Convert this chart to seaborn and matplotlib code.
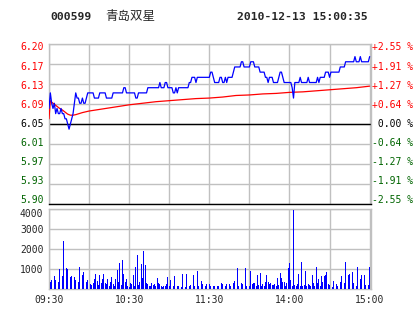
import numpy as np
import matplotlib
matplotlib.use("Agg")
import matplotlib.pyplot as plt
import seaborn as sns

# ---------------- data ----------------
code = "000599"
name = "青岛双星"
stamp = "2010-12-13 15:00:35"
prev_close = 6.05
pct_limit = 2.55

price_labels = ["6.20", "6.17", "6.13", "6.09", "6.05", "6.01", "5.97", "5.93", "5.90"]
pct_labels = ["+2.55 %", "+1.91 %", "+1.27 %", "+0.64 %", " 0.00 %",
              "-0.64 %", "-1.27 %", "-1.91 %", "-2.55 %"]
grid_minutes = [0, 30, 60, 90, 120, 150, 180, 210, 240]
time_labels = ["09:30", "", "10:30", "", "11:30", "", "14:00", "", "15:00"]
vol_ticks = [1000, 2000, 3000, 4000]
vol_tick_labels = ["1000", "2000", "3000", "4000"]

# last price, one per minute (0 = 09:30 ... 240 = 15:00)
price = [
    6.08, 6.11, 6.09, 6.08, 6.09, 6.07, 6.08, 6.07, 6.07, 6.08,
    6.07, 6.07, 6.06, 6.06, 6.05, 6.04, 6.05, 6.06, 6.07, 6.09,
    6.11, 6.10, 6.10, 6.09, 6.09, 6.10, 6.09, 6.09, 6.10, 6.11,
    6.11, 6.11, 6.11, 6.11, 6.10, 6.10, 6.10, 6.10, 6.11, 6.11,
    6.11, 6.11, 6.11, 6.10, 6.10, 6.10, 6.10, 6.10, 6.11, 6.11,
    6.11, 6.11, 6.11, 6.11, 6.11, 6.11, 6.12, 6.12, 6.11, 6.11,
    6.11, 6.11, 6.11, 6.11, 6.11, 6.10, 6.10, 6.11, 6.11, 6.11,
    6.11, 6.11, 6.11, 6.11, 6.12, 6.12, 6.12, 6.12, 6.12, 6.12,
    6.12, 6.12, 6.12, 6.13, 6.12, 6.12, 6.12, 6.13, 6.13, 6.12,
    6.12, 6.12, 6.12, 6.11, 6.11, 6.12, 6.11, 6.12, 6.12, 6.12,
    6.12, 6.12, 6.12, 6.12, 6.12, 6.13, 6.13, 6.14, 6.14, 6.14,
    6.13, 6.14, 6.14, 6.14, 6.14, 6.14, 6.14, 6.14, 6.14, 6.14,
    6.14, 6.15, 6.15, 6.14, 6.13, 6.13, 6.13, 6.13, 6.14, 6.14,
    6.13, 6.13, 6.14, 6.13, 6.14, 6.14, 6.14, 6.14, 6.15, 6.16,
    6.16, 6.16, 6.16, 6.16, 6.17, 6.17, 6.16, 6.16, 6.16, 6.16,
    6.16, 6.17, 6.17, 6.17, 6.16, 6.16, 6.16, 6.16, 6.15, 6.15,
    6.15, 6.15, 6.14, 6.14, 6.13, 6.14, 6.14, 6.14, 6.13, 6.13,
    6.13, 6.13, 6.14, 6.15, 6.15, 6.14, 6.13, 6.13, 6.13, 6.13,
    6.13, 6.13, 6.12, 6.10, 6.13, 6.13, 6.13, 6.13, 6.14, 6.13,
    6.13, 6.13, 6.13, 6.13, 6.14, 6.13, 6.13, 6.13, 6.13, 6.13,
    6.13, 6.14, 6.13, 6.14, 6.14, 6.14, 6.14, 6.15, 6.15, 6.15,
    6.14, 6.15, 6.15, 6.15, 6.15, 6.15, 6.15, 6.15, 6.16, 6.16,
    6.16, 6.16, 6.17, 6.17, 6.17, 6.17, 6.17, 6.17, 6.17, 6.18,
    6.17, 6.17, 6.17, 6.18, 6.17, 6.17, 6.17, 6.17, 6.17, 6.17,
    6.18,
]

# average price line, read at selected minutes
avg_minutes = [0, 1, 2, 4, 6, 8, 10, 12, 14, 16, 18, 20, 25, 30, 40, 50, 60, 70,
               80, 90, 100, 110, 120, 130, 140, 150, 160, 170, 180, 190, 200,
               210, 220, 230, 240]
avg_price = [6.060, 6.095, 6.092, 6.088, 6.084, 6.080, 6.077, 6.073, 6.069, 6.067,
             6.067, 6.068, 6.072, 6.075, 6.079, 6.083, 6.087, 6.090,
             6.093, 6.095, 6.097, 6.099, 6.100, 6.102, 6.105, 6.106, 6.108,
             6.109, 6.111, 6.112, 6.114, 6.116, 6.118, 6.120, 6.123]

# volume per minute
volume = [
    170, 370, 430, 510, 630, 430, 680, 340, 990, 170,
    630, 2380, 510, 1050, 1000, 510, 600, 630, 430, 600,
    460, 430, 340, 1090, 260, 680, 850, 370, 370, 430,
    510, 240, 200, 310, 510, 770, 410, 200, 710, 290,
    510, 770, 310, 240, 480, 170, 340, 600, 260, 170,
    480, 940, 340, 1280, 200, 1450, 770, 340, 480, 170,
    90, 310, 270, 710, 170, 1090, 1700, 200, 370, 1240,
    530, 1900, 1190, 310, 240, 170, 140, 310, 200, 270,
    140,
    540, 310, 240, 170, 120, 140, 170, 240, 580, 170,
    430, 480, 170, 650, 1700, 140, 170, 140, 100, 730,
    240, 120, 730, 100, 170, 220, 830, 680, 140, 340,
    880, 170, 310, 410, 240, 370, 170, 240, 200, 270,
    140, 580, 170, 140, 120, 140, 170, 140, 310, 240,
    270, 170, 270, 100, 240, 170, 100, 310, 410, 170,
    1040, 170, 100, 310, 240, 310, 1040, 170, 600, 170,
    880, 240, 310, 310, 170, 680, 200, 780, 170, 240,
    140,
    340, 680, 340, 240, 310, 200, 200, 270, 140, 540,
    200, 780, 540, 370, 370, 140, 310, 1050, 1290, 440,
    170, 3960, 200, 170, 240, 730, 140, 1330, 170, 200,
    880, 170, 240, 200, 170, 680, 310, 140, 1090, 310,
    510, 140, 650, 370, 630, 680, 850, 240, 200, 410,
    120, 410, 170, 240, 170, 510, 340, 650, 750, 310,
    1340, 340, 680, 750, 370, 850, 310, 410, 170, 1100,
    680, 480, 680, 3130, 680, 200, 770, 200, 1090,
]
minutes = list(range(len(price)))

# ---------------- style ----------------
sns.set_style("white")
plt.rcParams["font.family"] = ["DejaVu Sans Mono", "Noto Sans CJK SC"]

W, H = 414, 314
fig = plt.figure(figsize=(W / 100, H / 100), dpi=100)
fig.patch.set_facecolor("white")


def box(l, t, r, b):
    return [l / W, 1 - b / H, (r - l) / W, (b - t) / H]


GRID = "#c0c0c0"
RED = "#ff0000"
GREEN = "#006400"
BLUE = "#0000ff"
FS = 7

# ---------------- price panel ----------------
axp = fig.add_axes(box(49, 44, 371, 204))
lo = prev_close * (1 - pct_limit / 100)
hi = prev_close * (1 + pct_limit / 100)
axp.set_xlim(0, 241)
axp.set_ylim(lo, hi)
axp.set_xticks(grid_minutes)
axp.set_yticks(np.linspace(lo, hi, 9))
axp.grid(True, color=GRID, lw=1.0)
axp.tick_params(length=0, labelleft=False, labelbottom=False)
for s in ["left", "right", "top"]:
    axp.spines[s].set_color(GRID)
    axp.spines[s].set_linewidth(1.0)
axp.spines["bottom"].set_color("black")
axp.spines["bottom"].set_linewidth(1.0)
axp.axhline(prev_close, color="black", lw=1.0, zorder=2)

sns.lineplot(x=avg_minutes, y=avg_price, ax=axp, color=RED, lw=0.9,
             legend=False, zorder=3)
sns.lineplot(x=minutes, y=price, ax=axp, color=BLUE, lw=0.9,
             legend=False, zorder=4)
axp.set_xlabel("")
axp.set_ylabel("")

label_colors = [RED] * 4 + ["black"] + [GREEN] * 4
label_y = np.linspace((204 - 47.5) / 160, (204 - 200) / 160, 9)
for txt, pct, col, yy in zip(price_labels, pct_labels, label_colors, label_y):
    axp.text(-5 / 322, yy, txt, transform=axp.transAxes, ha="right",
             va="center", fontsize=FS, color=col)
    axp.text(1.002, yy, pct, transform=axp.transAxes, ha="left",
             va="center", fontsize=FS, color=col)

# ---------------- volume panel ----------------
axv = fig.add_axes(box(49, 209, 371, 289))
axv.set_xlim(0, 241)
axv.set_ylim(0, 4000)
axv.bar(minutes, volume, width=0.62, color=BLUE, linewidth=0, zorder=3)
axv.set_xticks(grid_minutes)
axv.set_xticklabels(time_labels, fontsize=FS)
axv.set_yticks(vol_ticks)
axv.set_yticklabels(vol_tick_labels, fontsize=FS)
axv.get_yticklabels()[-1].set_va("top")
axv.grid(True, color=GRID, lw=1.0, zorder=0)
axv.set_axisbelow(True)
axv.tick_params(length=0, pad=4)
for s in axv.spines.values():
    s.set_color(GRID)
    s.set_linewidth(1.0)

# ---------------- header ----------------
fig.text(50 / W, 1 - 16.7 / H, code, ha="left", va="center",
         fontsize=8.2, fontweight="bold", family=["DejaVu Sans Mono"])
fig.text(105 / W, 1 - 16.7 / H, name, ha="left", va="center",
         fontsize=9, family=["Noto Sans CJK SC", "DejaVu Sans"])
fig.text(237.5 / W, 1 - 16.7 / H, stamp, ha="left", va="center",
         fontsize=8.2, fontweight="bold", family=["DejaVu Sans Mono"])

fig.savefig("out.png", dpi=100, facecolor="white")
